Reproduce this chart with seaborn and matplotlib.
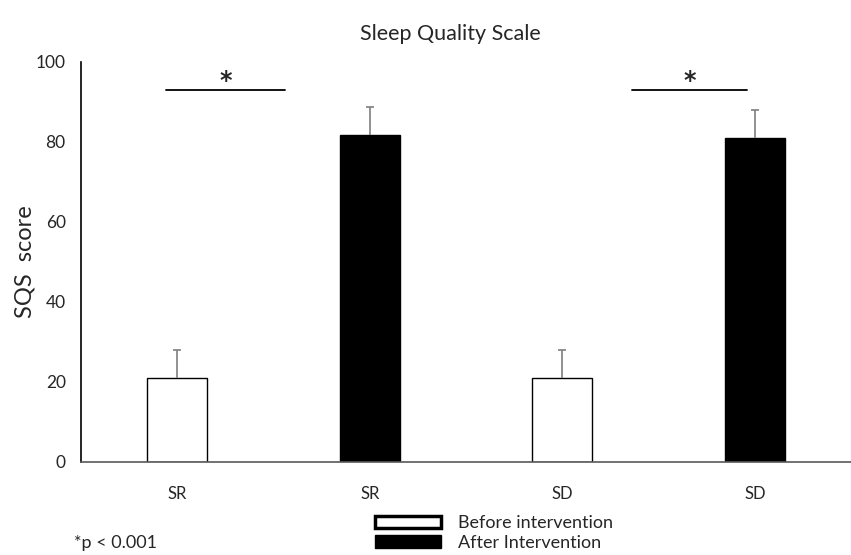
import matplotlib
matplotlib.use("Agg")
import matplotlib.pyplot as plt
import seaborn as sns
import pandas as pd
from matplotlib.patches import Patch

# data
keys = ["SR_before", "SR_after", "SD_before", "SD_after"]
tick_labels = ["SR", "SR", "SD", "SD"]
phase = ["Before intervention", "After Intervention", "Before intervention", "After Intervention"]
score = [21.0, 81.7, 21.0, 81.0]
err = [7.0, 7.0, 7.0, 7.0]
sig_pairs = [(-0.06, 0.56), (2.36, 2.96)]
sig_level = 93

df = pd.DataFrame({"key": keys, "phase": phase, "score": score})

sns.set_theme(style="white")
plt.rcParams['font.family'] = ['Lato', 'DejaVu Sans']

fig = plt.figure(figsize=(8.51, 5.55), dpi=100)
ax = fig.add_axes([0.0952, 0.1676, 0.9048, 0.7207])

sns.barplot(data=df, x="key", y="score", hue="phase", dodge=False,
            palette={"Before intervention": "white", "After Intervention": "black"},
            edgecolor="black", linewidth=1, width=0.31, errorbar=None,
            legend=False, ax=ax)

# upper error bars on the seaborn bars
bars = sorted(ax.patches, key=lambda p: p.get_x())
for p, e in zip(bars, err):
    cx = p.get_x() + p.get_width() / 2
    top = p.get_height()
    cap = p.get_width() * 0.07
    ax.vlines(cx, top, top + e, color="#7f7f7f", lw=1.2)
    ax.hlines(top + e, cx - cap, cx + cap, color="#7f7f7f", lw=1.2)

for x0, x1 in sig_pairs:
    ax.plot([x0, x1], [sig_level, sig_level], color="black", lw=1.3)
    ax.text((x0 + x1) / 2, sig_level - 0.8, "*", ha="center", va="bottom",
            fontsize=17, fontweight="bold", family=["DejaVu Sans"])

ax.set_ylim(0, 100)
ax.set_xlim(-0.5, 3.5)
ax.set_yticks(range(0, 101, 20))
ax.set_xticks(range(4))
ax.set_xticklabels(tick_labels, fontsize=12)
ax.tick_params(axis="y", labelsize=12.5, length=0, pad=11)
ax.tick_params(axis="x", length=0, pad=17)
ax.set_xlabel("")
ax.set_ylabel("SQS  score", fontsize=17, labelpad=0)
ax.set_title("Sleep Quality Scale", fontsize=15.5, pad=16, x=0.48)

for s in ["top", "right"]:
    ax.spines[s].set_visible(False)
ax.spines["left"].set_color("black")
ax.spines["left"].set_linewidth(1.2)
ax.spines["bottom"].set_color("#595959")
ax.spines["bottom"].set_linewidth(1.2)

handles = [Patch(facecolor="white", edgecolor="black", linewidth=2.5, label="Before intervention"),
           Patch(facecolor="black", edgecolor="black", label="After Intervention")]
fig.legend(handles=handles, loc="lower left", bbox_to_anchor=(0.421, -0.022),
           frameon=False, fontsize=13, handlelength=3.7, handleheight=0.7,
           labelspacing=0.2, handletextpad=0.9)

fig.text(0.087, 0.012, "*p < 0.001", fontsize=13)

fig.savefig("out.png", dpi=100)
